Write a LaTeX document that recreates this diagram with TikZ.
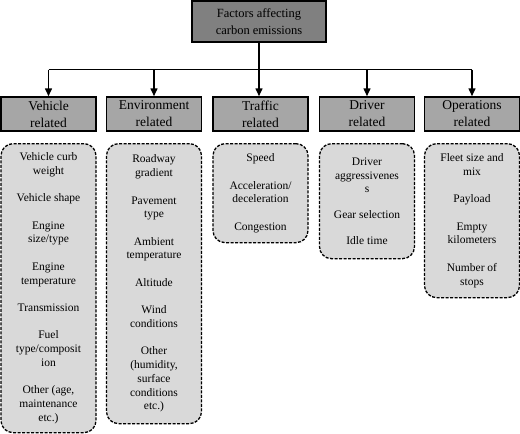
\documentclass[tikz,border=0pt]{standalone}
\usepackage{fontspec}
\setmainfont{Liberation Serif}
\usetikzlibrary{arrows.meta}
\definecolor{topgray}{HTML}{808080}
\definecolor{catgray}{HTML}{A6A6A6}
\definecolor{itemgray}{HTML}{D9D9D9}
\begin{document}
\begin{tikzpicture}[x=1pt,y=-1pt,
 topbox/.style={draw,line width=1.5pt,fill=topgray,minimum width=134pt,minimum height=41pt,align=center,font=\fontsize{12.5}{16.5}\selectfont,inner sep=0pt},
 catbox/.style={draw,line width=1.5pt,fill=catgray,minimum width=95pt,minimum height=34pt,align=center,font=\fontsize{13.5}{17}\selectfont,inner sep=0pt},
 itembox/.style={draw,line width=1.3pt,dash pattern=on 3pt off 1.5pt,rounded corners=12pt,fill=itemgray,minimum width=95pt,align=center,font=\fontsize{11.5}{13.8}\selectfont,anchor=north,inner sep=0pt},
 link/.style={line width=1.5pt},
 arr/.style={line width=1.5pt,-{Triangle[length=8pt,width=7pt]}}]
\useasboundingbox (0,0) rectangle (520,434);
\node[topbox] (top) at (259,21.5) {Factors affecting\\carbon emissions};
\node[catbox] (veh) at (48.5,114) {Vehicle\\related};
\node[catbox] (env) at (154,114) {Environment\\related};
\node[catbox] (tra) at (260.5,114) {Traffic\\related};
\node[catbox] (drv) at (367,114) {Driver\\related};
\node[catbox] (ops) at (472,114) {Operations\\related};
\node[itembox,minimum height=289pt] (vehi) at (48.5,143) {Vehicle curb\\weight\\[13.5pt]Vehicle shape\\[13.5pt]Engine\\size/type\\[13.5pt]Engine\\temperature\\[13.5pt]Transmission\\[13.5pt]Fuel\\type/composit\\ion\\[13.5pt]Other (age,\\maintenance\\etc.)};
\node[itembox,minimum height=280pt] (envi) at (154,143) {Roadway\\gradient\\[13.5pt]Pavement\\type\\[13.5pt]Ambient\\temperature\\[13.5pt]Altitude\\[13.5pt]Wind\\conditions\\[13.5pt]Other\\(humidity,\\surface\\conditions\\etc.)};
\node[itembox,minimum height=99pt] (trai) at (260.5,143) {Speed\\[13.5pt]Acceleration/\\deceleration\\[13.5pt]Congestion};
\node[itembox,minimum height=115pt] (drvi) at (367,143) {Driver\\aggressivenes\\s\\[12pt]Gear selection\\[12pt]Idle time};
\node[itembox,minimum height=154pt] (opsi) at (472,143) {Fleet size and\\mix\\[13.5pt]Payload\\[13.5pt]Empty\\kilometers\\[13.5pt]Number of\\stops};
\coordinate (bar) at (259,69.5);
\draw[link] (veh.north |- bar) -- (ops.north |- bar);
\draw[arr] (top.south) -- (top.south |- tra.north);
\draw[arr] (veh.north |- bar) -- (veh.north);
\draw[arr] (env.north |- bar) -- (env.north);
\draw[arr] (drv.north |- bar) -- (drv.north);
\draw[arr] (ops.north |- bar) -- (ops.north);
\end{tikzpicture}
\end{document}
